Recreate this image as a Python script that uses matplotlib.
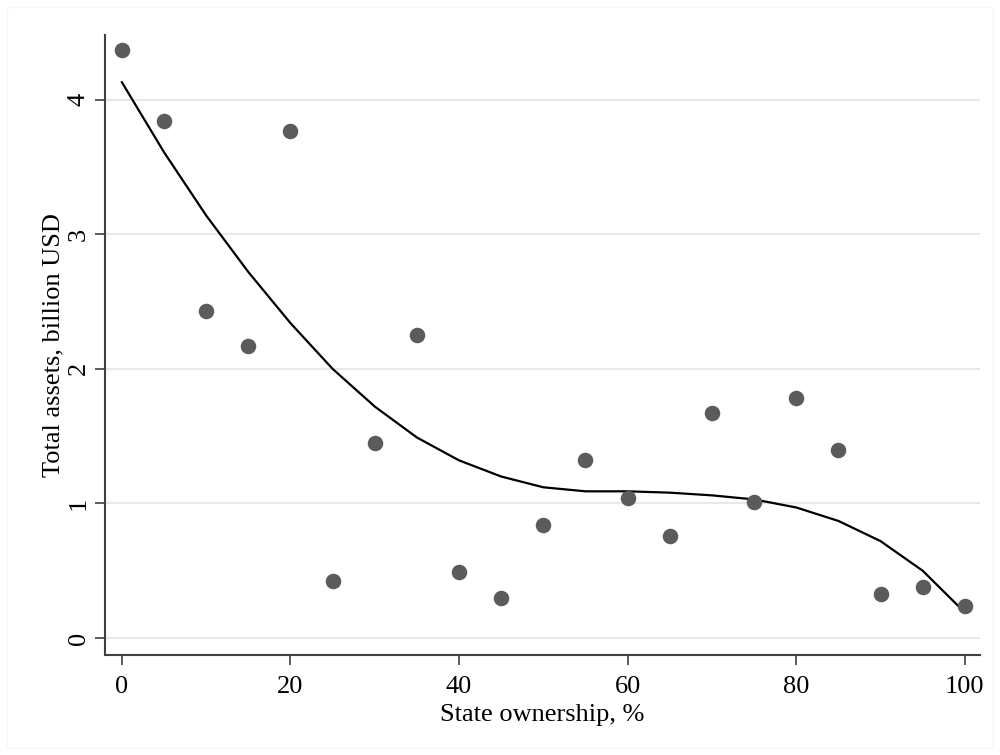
import matplotlib.pyplot as plt
from matplotlib.patches import Rectangle

# state ownership share, %
ownership = [0, 5, 10, 15, 20, 25, 30, 35, 40, 45, 50,
             55, 60, 65, 70, 75, 80, 85, 90, 95, 100]
# mean total assets, billion USD
assets = [4.37, 3.84, 2.43, 2.17, 3.77, 0.42, 1.45, 2.25, 0.49, 0.30, 0.84,
          1.32, 1.04, 0.76, 1.67, 1.01, 1.78, 1.40, 0.33, 0.38, 0.24]
# smoothed fit
fit = [4.13, 3.61, 3.14, 2.72, 2.34, 2.00, 1.72, 1.49, 1.32, 1.20, 1.12,
       1.09, 1.09, 1.08, 1.06, 1.03, 0.97, 0.87, 0.72, 0.50, 0.19]

x_ticks = [0, 20, 40, 60, 80, 100]
y_ticks = [0, 1, 2, 3, 4]

plt.rcParams['font.family'] = ['Liberation Serif', 'DejaVu Serif']

fig = plt.figure(figsize=(10, 7.55), dpi=100)
fig.patches.append(Rectangle((0.007, 0.009), 0.986, 0.982, transform=fig.transFigure,
                             fill=False, edgecolor='#f6f6f6', linewidth=1))
ax = fig.add_axes([0.105, 0.1325, 0.875, 0.821])

for y in y_ticks:
    ax.axhline(y, color='#e8e8e8', linewidth=1.5, zorder=0)

ax.scatter(ownership, assets, s=125, color='#5b5b5b', zorder=3, linewidths=0)
ax.plot(ownership, fit, color='black', linewidth=1.6, zorder=2)

ax.set_xlim(-2.0, 101.8)
ax.set_ylim(-0.126, 4.48)
ax.set_xticks(x_ticks)
ax.set_yticks(y_ticks)
ax.set_yticklabels([str(v) for v in y_ticks], rotation=90, va='center')

for side in ['top', 'right']:
    ax.spines[side].set_visible(False)
for side in ['left', 'bottom']:
    ax.spines[side].set_color('#404040')
    ax.spines[side].set_linewidth(1.5)

ax.tick_params(axis='both', labelsize=19, length=7, width=1.2, color='#404040')
ax.tick_params(axis='x', pad=8)
ax.tick_params(axis='y', pad=4)
ax.set_xlabel("State ownership, %", fontsize=19, labelpad=4.5)
ax.set_ylabel("Total assets, billion USD", fontsize=19, labelpad=2)

fig.savefig("out.png", dpi=100)
plt.close()
